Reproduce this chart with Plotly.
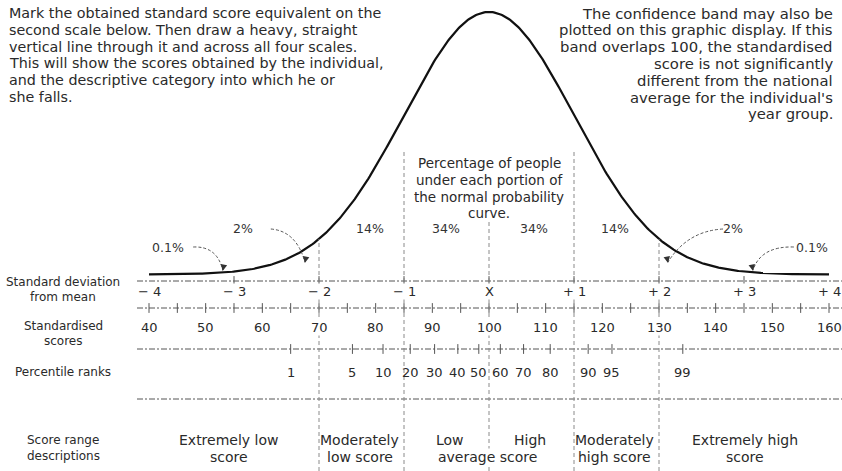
import numpy as np
import plotly.graph_objects as go

# ---------------- data ----------------
MEAN = 100
SD = 15
sd_values = [-4, -3, -2, -1, 0, 1, 2, 3, 4]
sd_labels = ["\u2212 4", "\u2212 3", "\u2212 2", "\u2212 1", "X", "+ 1", "+ 2", "+ 3", "+ 4"]
score_values = [40, 50, 60, 70, 80, 90, 100, 110, 120, 130, 140, 150, 160]
score_labels = [str(v) for v in score_values]
score_minor_ticks = list(range(40, 161, 5))
percentile_ranks = [1, 5, 10, 20, 30, 40, 50, 60, 70, 80, 90, 95, 99]
percentile_scores = [65.0, 75.9, 81.3, 86.1, 90.4, 94.5, 98.2, 102.0, 106.1, 110.8, 117.5, 121.7, 134.2]
area_labels = ["0.1%", "2%", "14%", "34%", "34%", "14%", "2%", "0.1%"]
area_label_scores = [43.4, 56.6, 79.0, 92.4, 108.0, 122.2, 143.0, 157.0]
range_names = ["Extremely low", "score", "Moderately", "low score", "Low", "High",
               "average score", "Moderately", "high score", "Extremely high", "score"]
range_centres = [54.1, 54.1, 77.2, 77.2, 93.1, 107.2, 99.8, 122.2, 122.2, 145.2, 145.2]
range_lines = [0, 1, 0, 1, 0, 0, 1, 0, 1, 0, 1]

left_note = ["Mark the obtained standard score equivalent on the",
             "second scale below. Then draw a heavy, straight",
             "vertical line through it and across all four scales.",
             "This will show the scores obtained by the individual,",
             "and the descriptive category into which he or",
             "she falls."]
right_note = ["The confidence band may also be",
              "plotted on this graphic display. If this",
              "band overlaps 100, the standardised",
              "score is not significantly",
              "different from the national",
              "average for the individual's",
              "year group."]
centre_note = ["Percentage of people", "under each portion of",
               "the normal probability", "curve."]
row_names = [["Standard deviation", "from mean"], ["Standardised", "scores"],
             ["Percentile ranks"], ["Score range", "descriptions"]]

# ---------------- layout constants (pixels) ----------------
W, H = 842, 471
PX40, PX160 = 149, 829
ppu = (PX160 - PX40) / 120.0
x_lo = 40 - PX40 / ppu
x_hi = 160 + (W - PX160) / ppu

BASE_PX, PEAK_PX = 274.5, 12
pdf_peak = 1 / (SD * np.sqrt(2 * np.pi))
f_base = (H - BASE_PX) / H
f_peak = (H - PEAK_PX) / H
span2 = pdf_peak / (f_peak - f_base)
y2_lo = -f_base * span2
y2_hi = y2_lo + span2


def pdf(v):
    return np.exp(-0.5 * ((np.asarray(v, dtype=float) - MEAN) / SD) ** 2) / (SD * np.sqrt(2 * np.pi))


HLINES = [281, 308, 349, 399]
ROW_Y = [290, 327, 372, 440]
ROW_NAME_Y = [289.5, 333.5, 372, 448]
LH = 16.8
FONT = "DejaVu Sans, Verdana, sans-serif"
TXT = "#2a2a2a"


def txt(x, y, s, size, xref="x", xanchor="center", color=TXT, bg=None):
    fig.add_annotation(x=x, y=y, xref=xref, yref="y", text=s, showarrow=False,
                       xanchor=xanchor, yanchor="middle", borderpad=0,
                       bgcolor=bg if bg else "rgba(0,0,0,0)",
                       font=dict(family=FONT, size=size, color=color))


fig = go.Figure()

# normal curve
xs = np.linspace(40, 160, 500)
fig.add_trace(go.Scatter(x=xs, y=pdf(xs), yaxis="y2", mode="lines",
                         line=dict(color="#111", width=2.2), hoverinfo="skip", showlegend=False))

# horizontal dashed scale lines
line_start = 40 - (PX40 - 137) / ppu
for yy in HLINES:
    fig.add_shape(type="line", xref="x", yref="y", x0=line_start, x1=x_hi, y0=yy, y1=yy,
                  line=dict(color="#555", width=1, dash="6px,2px,2px,2px"))

# tick marks on the scale lines
sd_scores = [MEAN + SD * s for s in sd_values]
tick_sets = [
    (HLINES[0], sd_scores[1:-1]),
    (HLINES[1], score_minor_ticks),
    (HLINES[2], percentile_scores),
]
for yy, xs_t in tick_sets:
    fig.add_trace(go.Scatter(x=xs_t, y=[yy] * len(xs_t), yaxis="y", mode="markers",
                             marker=dict(symbol="line-ns-open", size=7, color="#555",
                                         line=dict(color="#555", width=1)),
                             hoverinfo="skip", showlegend=False))

# vertical dashed lines
for s in [70, 130]:
    fig.add_shape(type="line", xref="x", yref="y2", x0=s, x1=s, y0=y2_lo, y1=float(pdf(s)),
                  line=dict(color="#8a8a8a", width=1, dash="4px,3px"))
for s, top in [(85, 150), (115, 150), (100, 222)]:
    fig.add_shape(type="line", xref="x", yref="y", x0=s, x1=s, y0=H, y1=top,
                  line=dict(color="#8a8a8a", width=1, dash="4px,3px"))

# scale texts
for v, lab in zip(sd_scores, sd_labels):
    txt(v, ROW_Y[0] + 1, lab, 13, bg="white")
for v, lab in zip(score_values, score_labels):
    txt(v, ROW_Y[1], lab, 13, bg="white")
for v, lab in zip(percentile_scores, percentile_ranks):
    txt(v, ROW_Y[2], str(lab), 13)

# score range descriptions
for name, c, ln in zip(range_names, range_centres, range_lines):
    txt(c, ROW_Y[3] + ln * LH, name, 14, bg="white" if name == "average score" else None)

# row names
for lines, yc in zip(row_names, ROW_NAME_Y):
    n = len(lines)
    for i, s in enumerate(lines):
        txt(63 / W, yc + (i - (n - 1) / 2) * (LH - 1.5), s, 12, xref="paper")

# area percentages
for lab, c in zip(area_labels, area_label_scores):
    yy = 247 if lab == "0.1%" else 228
    txt(c, yy, lab, 12.5, color="#333")

# curved dashed arrows from labels to the curve
arrows = [
    (47.8, 247, 52.0, 246, 53.0, 270),
    (61.5, 229, 66.0, 231, 67.5, 262),
    (141.3, 229, 135.0, 231, 131.6, 262),
    (153.8, 247, 148.0, 246, 146.6, 270),
]
for x0, y0, cx, cy, x1, y1 in arrows:
    fig.add_shape(type="path", xref="x", yref="y",
                  path=f"M {x0},{y0} Q {cx},{cy} {x1},{y1}",
                  line=dict(color="#555", width=1, dash="3px,2px"))
    fig.add_annotation(x=x1, y=y1 + 1, xref="x", yref="y",
                       ax=x1 + (0.25 if x1 < 100 else -0.25), ay=y1 - 6,
                       axref="x", ayref="y", text="", showarrow=True,
                       arrowhead=2, arrowsize=1, arrowwidth=1.3, arrowcolor="#333")

# notes
for i, s in enumerate(left_note):
    txt(8 / W, 13 + i * LH, s, 14.3, xref="paper", xanchor="left")
for i, s in enumerate(right_note):
    txt(834 / W, 13 + i * LH, s, 14.8, xref="paper", xanchor="right")
for i, s in enumerate(centre_note):
    txt(MEAN, 163 + i * LH, s, 13.5)

fig.update_layout(
    width=W, height=H, margin=dict(l=0, r=0, t=0, b=0),
    paper_bgcolor="white", plot_bgcolor="white", showlegend=False,
    xaxis=dict(range=[x_lo, x_hi], visible=False, fixedrange=True),
    yaxis=dict(range=[H, 0], visible=False, fixedrange=True),
    yaxis2=dict(range=[y2_lo, y2_hi], overlaying="y", visible=False, fixedrange=True),
)

fig.write_html("out.html", config={"displayModeBar": False},
               post_script="document.body.style.margin='0px';document.body.style.padding='0px';")
